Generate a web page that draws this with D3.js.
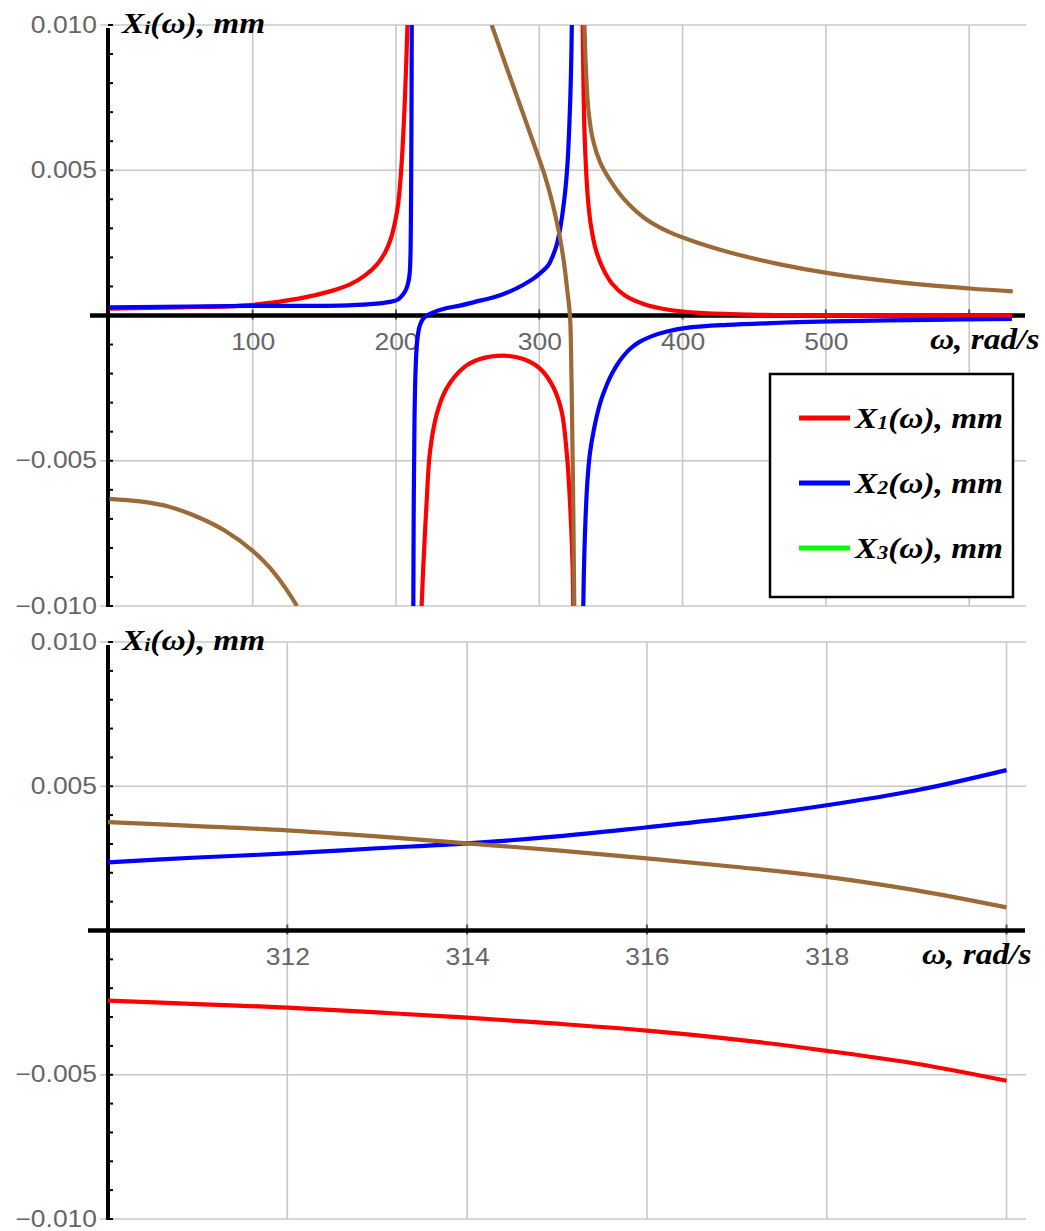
<!DOCTYPE html>
<html>
<head>
<meta charset="utf-8">
<script src="https://cdn.jsdelivr.net/npm/d3@7"></script>
<style>
  body { margin: 0; background: #fff; }
  .tick-label { font-family: "Liberation Sans", Arial, sans-serif; font-size: 23px; fill: #666; }
  .math { font-family: "Liberation Serif", "Times New Roman", serif; font-weight: bold; font-style: italic; font-size: 29px; fill: #000; }
</style>
</head>
<body>
<svg width="1045" height="1231"></svg>
<script>
// values, [omega, X] per branch (each branch ends at the plot range)

// upper plot, omega 0..640
var topX1 = [
  [[0, 0.00024], [49.3, 0.00028], [98.1, 0.00036], [133, 0.00059], [153.9, 0.00083], [167.9, 0.00107],
   [178.4, 0.00138], [186.8, 0.00176], [192.4, 0.00217], [196.5, 0.00266], [199.3, 0.00321], [201.4, 0.0038],
   [203.1, 0.00466], [204.5, 0.00569], [205.9, 0.0071], [207, 0.00848], [208, 0.01]],
  [[217.9, -0.01], [219, -0.0087], [221.4, -0.0064], [223.7, -0.0047], [228.4, -0.0034], [235.4, -0.0025],
   [247, -0.0018], [258.6, -0.0015], [274.9, -0.00138], [288.9, -0.0015], [300.5, -0.00183], [309.8, -0.00247],
   [315.6, -0.0033], [319.1, -0.0047], [321.4, -0.0064], [323.3, -0.0087], [323.7, -0.01]],
  [[330.3, 0.01], [330.8, 0.0081], [331.5, 0.00638], [332.6, 0.00507], [334, 0.00397], [336.1, 0.00307],
   [339.6, 0.00224], [344.4, 0.00162], [350.7, 0.0011], [359.8, 0.00069], [373.8, 0.00038], [391.2, 0.00019],
   [412.1, 0.00009], [447, 0.00003], [482, 0.00001], [629.8, 0]]
];
var topX2 = [
  [[0, 0.00028], [98.1, 0.00033], [160.9, 0.00034], [181.9, 0.00039], [195.8, 0.00047], [201.4, 0.00055],
   [204.9, 0.00072], [207.3, 0.00093], [208.7, 0.00117], [209.6, 0.00148], [210.1, 0.00207], [210.5, 0.00397],
   [210.8, 0.00672], [211, 0.01]],
  [[212.1, -0.01], [212.4, -0.00638], [212.9, -0.00362], [213.6, -0.00197], [214.7, -0.00093], [216.4, -0.00038],
   [218.8, -0.00012], [221.6, 0], [228.6, 0.00016], [235.6, 0.00026], [244.7, 0.00034], [255.1, 0.00047],
   [267.7, 0.00062], [279.6, 0.00083], [288.6, 0.00105], [295.6, 0.00126], [300.5, 0.00145], [306.1, 0.00172],
   [309.6, 0.00207], [312.4, 0.00248], [314.5, 0.00297], [316.5, 0.00362], [318.3, 0.00438], [319.7, 0.00524],
   [320.7, 0.00621], [321.6, 0.00741], [322.3, 0.00879], [322.7, 0.01]],
  [[330.7, -0.01], [331.3, -0.00845], [332.2, -0.00707], [333.6, -0.00569], [335.4, -0.00472], [338.2, -0.0039],
   [342.4, -0.00303], [345.8, -0.00255], [349.3, -0.00214], [353.5, -0.00176], [358.4, -0.00141], [364, -0.00112],
   [370.3, -0.0009], [378.6, -0.00071], [389.1, -0.00055], [405.2, -0.00041], [431, -0.00032], [467.9, -0.00025],
   [502.8, -0.0002], [572.6, -0.00015], [629.8, -0.00012]]
];
var topX3 = [
  [[0, -0.00631], [21.4, -0.0064], [42.3, -0.00659], [63.2, -0.00697], [80.7, -0.00741], [100, -0.0081],
   [112.1, -0.00869], [122.5, -0.00936], [130.9, -0.01]],
  [[266.8, 0.01], [276.1, 0.00869], [286.6, 0.00724], [297, 0.00579], [304, 0.00479], [309.6, 0.00379],
   [313.7, 0.00286], [317.2, 0.00183], [319.7, 0.00079], [321.4, 0], [322.5, -0.00224], [323.5, -0.00569],
   [324.4, -0.01]],
  [[331.5, 0.01], [332.6, 0.00845], [334.3, 0.00707], [337.5, 0.00603], [342.4, 0.00528], [349.4, 0.00466],
   [359.8, 0.00397], [373.8, 0.00334], [391.2, 0.00286], [412.1, 0.00248], [433, 0.00217], [467.9, 0.00176],
   [502.8, 0.00145], [551.6, 0.00114], [600.4, 0.00093], [630.4, 0.00083]]
];

// lower plot, omega 310..320
var botX1 = [[[310, -0.00243], [311, -0.00255], [312, -0.00267], [313, -0.00284], [314, -0.00302], [315, -0.00323],
  [316, -0.00347], [317, -0.00378], [318, -0.00417], [319, -0.00462], [320, -0.00521]]];
var botX2 = [[[310, 0.00236], [311, 0.00253], [312, 0.00267], [313, 0.00285], [314, 0.00302], [315, 0.00326],
  [316, 0.00358], [317, 0.00392], [318, 0.00434], [319, 0.00486], [320, 0.00556]]];
var botX3 = [[[310, 0.00376], [311, 0.00362], [312, 0.00347], [313, 0.00326], [314, 0.00302], [315, 0.00278],
  [316, 0.0025], [317, 0.0022], [318, 0.00186], [319, 0.00139], [320, 0.0008]]];

var topXGrid = [100, 200, 300, 400, 500, 600];
var topXLabels = [100, 200, 300, 400, 500];
var botXGrid = [312, 314, 316, 318, 320];
var botXLabels = [312, 314, 316, 318];
var yTicks = [-0.010, -0.005, 0.005, 0.010];
var seriesColors = ["#ff0000", "#0000ff", "#9b6a36"];
var legendSubs = ["1", "2", "3"];
var legendColors = ["#ff0000", "#0000ff", "#00ff00"];

var svg = d3.select("svg");
var stretch = "scale(1.15,1)";   // the figure's lettering is a little wide

var panels = [
  { x: d3.scaleLinear().domain([0, 640]).range([109.4, 1026.5]),
    y: d3.scaleLinear().domain([-0.01, 0.01]).range([606, 25]),
    grid: topXGrid, labels: topXLabels, series: [topX1, topX2, topX3], hStart: 90, unitX: 930 },
  { x: d3.scaleLinear().domain([310, 320.2]).range([107.5, 1024.5]),
    y: d3.scaleLinear().domain([-0.01, 0.01]).range([1219, 642]),
    grid: botXGrid, labels: botXLabels, series: [botX1, botX2, botX3], hStart: 88, unitX: 922 }
];

function mathLabel(sel, sub, rest) {
  sel.append("tspan").text("X");
  sel.append("tspan").attr("font-size", "19px").attr("dy", 1).text(sub);
  sel.append("tspan").attr("dy", -1).text(rest);
}

panels.forEach(function(p, i) {
  var g = svg.append("g");
  var x0 = 108, xEnd = 1026;
  var yTop = p.y(0.01), yBot = p.y(-0.01), yZero = p.y(0);

  // grid
  g.append("g").selectAll("line")
    .data(p.grid)
    .enter().append("line")
      .attr("x1", function(d) { return p.x(d); })
      .attr("x2", function(d) { return p.x(d); })
      .attr("y1", yTop).attr("y2", yBot)
      .attr("stroke", "#c8c8c8").attr("stroke-width", 1.6);

  g.append("g").selectAll("line")
    .data(yTicks)
    .enter().append("line")
      .attr("x1", 100).attr("x2", xEnd)
      .attr("y1", function(d) { return p.y(d); })
      .attr("y2", function(d) { return p.y(d); })
      .attr("stroke", "#c8c8c8").attr("stroke-width", 1.6);

  // tick labels via d3 axes
  var yAxis = g.append("g")
      .attr("transform", "translate(" + x0 + ",0)")
      .call(d3.axisLeft(p.y).tickValues(yTicks).tickFormat(d3.format(".3f")).tickSize(0));
  yAxis.select(".domain").remove();
  yAxis.selectAll("text")
      .attr("class", "tick-label")
      .attr("x", null).attr("dy", null)
      .attr("font-size", null).attr("font-family", null).attr("fill", null)
      .attr("transform", "translate(-11,7) " + stretch);

  var xAxis = g.append("g")
      .attr("transform", "translate(0," + yZero + ")")
      .call(d3.axisBottom(p.x).tickValues(p.labels).tickFormat(d3.format("d")).tickSize(0));
  xAxis.select(".domain").remove();
  xAxis.selectAll("text")
      .attr("class", "tick-label")
      .attr("y", null).attr("dy", null)
      .attr("font-size", null).attr("font-family", null).attr("fill", null)
      .attr("transform", "translate(0,34) " + stretch);

  // small tick marks
  g.append("g").selectAll("line")
    .data(p.grid)
    .enter().append("line")
      .attr("x1", function(d) { return p.x(d); })
      .attr("x2", function(d) { return p.x(d); })
      .attr("y1", yZero - 6).attr("y2", yZero + 4)
      .attr("stroke", "#555").attr("stroke-width", 2);

  g.append("g").selectAll("line")
    .data(p.y.ticks(20))
    .enter().append("line")
      .attr("x1", x0).attr("x2", x0 + 5)
      .attr("y1", function(d) { return p.y(d); })
      .attr("y2", function(d) { return p.y(d); })
      .attr("stroke", "#000").attr("stroke-width", 2);

  // axes
  g.append("line")
      .attr("x1", p.hStart).attr("x2", 1025)
      .attr("y1", yZero).attr("y2", yZero)
      .attr("stroke", "#000").attr("stroke-width", 4.5);
  g.append("line")
      .attr("x1", x0).attr("x2", x0)
      .attr("y1", yTop + 3).attr("y2", yBot + 1)
      .attr("stroke", "#000").attr("stroke-width", 4);

  // curves
  svg.append("clipPath").attr("id", "clip" + i)
    .append("rect")
      .attr("x", x0).attr("y", yTop)
      .attr("width", xEnd - x0).attr("height", yBot - yTop);

  var line = d3.line()
      .x(function(d) { return p.x(d[0]); })
      .y(function(d) { return p.y(d[1]); })
      .curve(d3.curveCatmullRom.alpha(0.5));

  var curves = g.append("g").attr("clip-path", "url(#clip" + i + ")");
  p.series.forEach(function(branches, k) {
    curves.selectAll(null)
      .data(branches)
      .enter().append("path")
        .attr("d", line)
        .attr("fill", "none")
        .attr("stroke", seriesColors[k])
        .attr("stroke-width", 4.2)
        .attr("stroke-linejoin", "round");
  });

  // axis titles
  var t = g.append("text").attr("class", "math")
      .attr("transform", "translate(122," + (yTop + 8) + ") " + stretch);
  mathLabel(t, "i", "(ω), mm");

  g.append("text").attr("class", "math")
      .attr("transform", "translate(" + p.unitX + "," + (yZero + 33) + ") " + stretch)
      .text("ω, rad/s");
});

// legend (upper plot)
var legend = svg.append("g");
legend.append("rect")
    .attr("x", 770).attr("y", 374)
    .attr("width", 243).attr("height", 223)
    .attr("fill", "#fff").attr("stroke", "#000").attr("stroke-width", 2.5);

var item = legend.selectAll("g.item")
    .data(legendSubs)
    .enter().append("g")
      .attr("class", "item")
      .attr("transform", function(d, i) { return "translate(0," + (418 + i * 65) + ")"; });

item.append("line")
    .attr("x1", 799).attr("x2", 850)
    .attr("stroke", function(d, i) { return legendColors[i]; })
    .attr("stroke-width", 5);

item.each(function(d) {
  var t = d3.select(this).append("text").attr("class", "math")
      .attr("transform", "translate(855,10) " + stretch);
  mathLabel(t, d, "(ω), mm");
});
</script>
</body>
</html>
